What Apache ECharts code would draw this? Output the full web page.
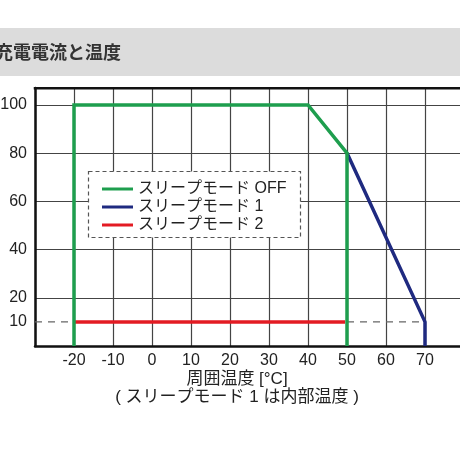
<!DOCTYPE html>
<html><head><meta charset="utf-8">
<script src="https://cdn.jsdelivr.net/npm/echarts@6/dist/echarts.min.js"></script>
<style>html,body{margin:0;padding:0;background:#fff}#c{width:460px;height:460px}</style>
</head><body><div id="c"></div>
<script>
var titleText = '充電電流と温度';
var xName1 = '周囲温度 [°C]';
var xName2 = '( スリープモード 1 は内部温度 )';
var xTickLabels = [-20, -10, 0, 10, 20, 30, 40, 50, 60, 70];
var yTickLabels = [10, 20, 40, 60, 80, 100];
var seriesNames = ['スリープモード OFF', 'スリープモード 1', 'スリープモード 2'];
var offTemp = [-20, -20, 40, 50, 50];
var offCurrent = [0, 100, 100, 80, 0];
var mode1Temp = [50, 70, 70];
var mode1Current = [80, 10, 0];
var mode2Temp = [-20, 49.5];
var mode2Current = [10, 10];
var refLeftTemp = [-30, -20];
var refRightTemp = [50, 70];
var refCurrent = [10, 10];

function pairs(xs, ys){ return xs.map(function(x,i){ return [x, ys[i]]; }); }
var F = "'Liberation Sans', 'Noto Sans CJK JP', sans-serif";
var chart = echarts.init(document.getElementById('c'));
chart.setOption({
  animation: false,
  backgroundColor: '#fff',
  grid: { left: 35, top: 88, width: 429, height: 258, show: false, containLabel: false, outerBoundsMode: 'none' },
  xAxis: {
    type: 'value', min: -30, max: 80, interval: 10,
    axisLine: { show: true, onZero: false, lineStyle: { color: '#111', width: 2.5 } },
    axisTick: { show: false },
    axisLabel: { customValues: xTickLabels, color: '#222', fontSize: 16, fontFamily: F, margin: 7 },
    splitLine: { show: true, lineStyle: { color: '#444', width: 1.2 } }
  },
  yAxis: {
    type: 'value', min: 0, max: 107, interval: 20,
    axisLine: { show: true, onZero: false, lineStyle: { color: '#111', width: 2.5 } },
    axisTick: { show: false },
    axisLabel: { customValues: yTickLabels, color: '#222', fontSize: 16, fontFamily: F, margin: 8 },
    splitLine: { show: true, lineStyle: { color: '#444', width: 1.2 } }
  },
  legend: {
    left: 97, top: 175, orient: 'vertical', itemGap: 0, z: 20,
    itemWidth: 31, itemHeight: 3, icon: 'rect',
    data: seriesNames,
    textStyle: { fontSize: 16, lineHeight: 18, color: '#222', fontFamily: F },
    selectedMode: false
  },
  graphic: [
    { type: 'rect', left: 0, top: 28, shape: { width: 460, height: 48 }, style: { fill: '#dcdcdc' }, silent: true },
    { type: 'text', left: -5, top: 43, style: { text: titleText, font: "bold 18px 'Noto Sans CJK JP', sans-serif", fill: '#333' } },
    { type: 'rect', z: 15, shape: { x: 88.5, y: 171.5, width: 212, height: 66 },
      style: { fill: '#fff', stroke: '#555', lineWidth: 1.2, lineDash: [4, 3] } },
    { type: 'text', x: 237, y: 379, style: { text: xName1, font: "17px " + F, fill: '#222', align: 'center', verticalAlign: 'middle' } },
    { type: 'text', x: 237, y: 397, style: { text: xName2, font: "17px " + F, fill: '#222', align: 'center', verticalAlign: 'middle' } },
    { type: 'rect', z: 12, shape: { x: 33.75, y: 87, width: 440, height: 2.5 }, style: { fill: '#111' } }
  ],
  series: [
    { type: 'line', data: pairs(refLeftTemp, refCurrent), showSymbol: false, silent: true,
      lineStyle: { color: '#666', width: 1.2, type: [7, 6] } },
    { type: 'line', data: pairs(refRightTemp, refCurrent), showSymbol: false, silent: true,
      lineStyle: { color: '#666', width: 1.2, type: [7, 6] } },
    { name: seriesNames[2], type: 'line', data: pairs(mode2Temp, mode2Current), showSymbol: false,
      color: '#e31b23', lineStyle: { color: '#e31b23', width: 3.5 } },
    { name: seriesNames[1], type: 'line', data: pairs(mode1Temp, mode1Current), showSymbol: false,
      color: '#1f2a80', lineStyle: { color: '#1f2a80', width: 3.5 } },
    { name: seriesNames[0], type: 'line', data: pairs(offTemp, offCurrent), showSymbol: false,
      color: '#1e9e4e', lineStyle: { color: '#1e9e4e', width: 3.5, join: 'miter' } }
  ]
});
</script></body></html>
